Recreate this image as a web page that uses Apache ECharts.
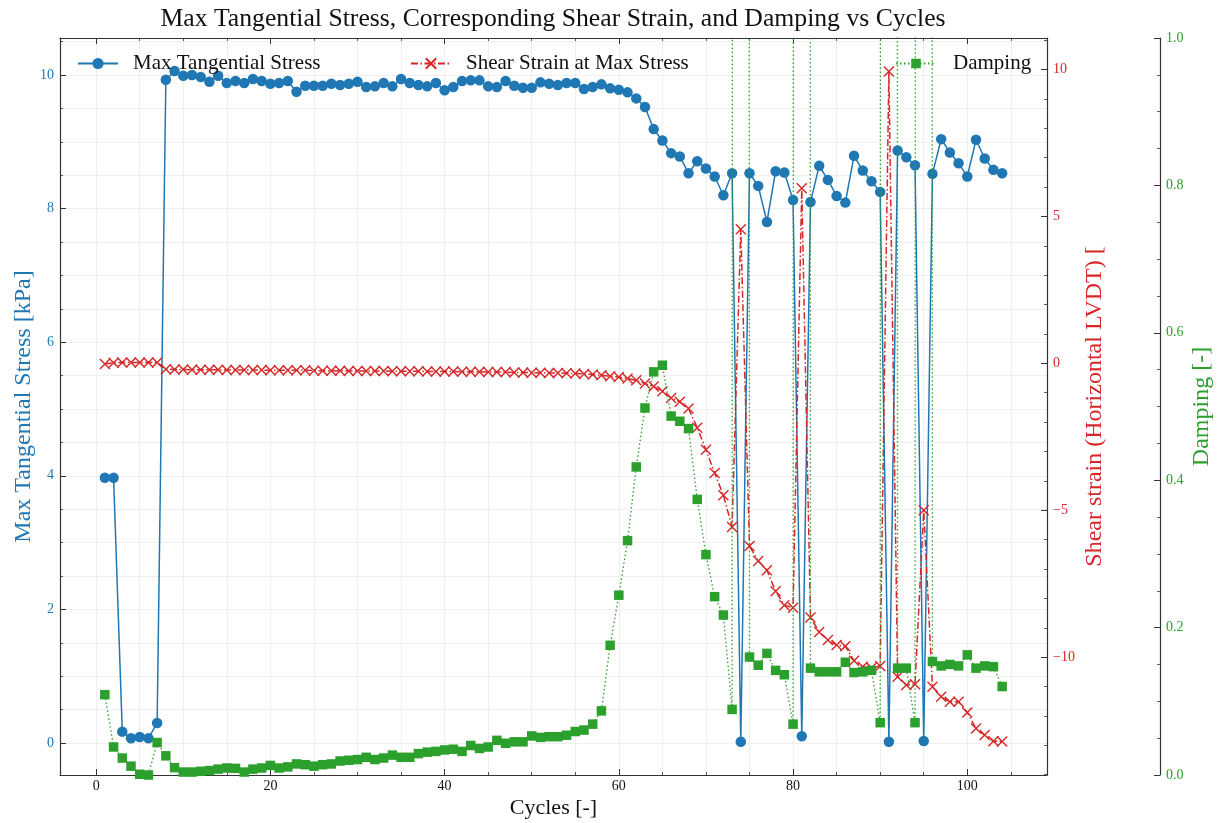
<!DOCTYPE html>
<html><head><meta charset="utf-8">
<script src="https://cdn.jsdelivr.net/npm/echarts@6/dist/echarts.min.js"></script>
<style>html,body{margin:0;padding:0;background:#fff;overflow:hidden}#c{width:1221px;height:823px}</style>
</head><body><div id="c"></div>
<script>
const cycles = [1,2,3,4,5,6,7,8,9,10,11,12,13,14,15,16,17,18,19,20,21,22,23,24,25,26,27,28,29,30,31,32,33,34,35,36,37,38,39,40,41,42,43,44,45,46,47,48,49,50,51,52,53,54,55,56,57,58,59,60,61,62,63,64,65,66,67,68,69,70,71,72,73,74,75,76,77,78,79,80,81,82,83,84,85,86,87,88,89,90,91,92,93,94,95,96,97,98,99,100,101,102,103,104];
const stress = [3.97,3.97,0.17,0.07,0.09,0.07,0.30,
  9.93,10.06,9.99,10.0,9.97,9.90,9.99,9.88,9.91,9.88,
  9.94,9.91,9.87,9.88,9.91,9.75,9.84,9.84,9.84,9.87,
  9.85,9.87,9.90,9.82,9.83,9.88,9.83,9.94,9.88,9.85,
  9.83,9.88,9.77,9.82,9.91,9.92,9.92,9.83,9.82,9.91,
  9.84,9.81,9.81,9.89,9.87,9.85,9.88,9.88,9.79,9.82,
  9.86,9.80,9.78,9.74,9.65,9.52,9.19,9.02,8.83,8.78,
  8.53,8.71,8.60,8.48,8.20,8.53,0.02,8.53,8.34,7.80,
  8.56,8.54,8.13,0.10,8.10,8.64,8.43,8.19,8.09,8.79,
  8.57,8.41,8.25,0.02,8.87,8.77,8.65,0.03,8.52,9.04,
  8.84,8.68,8.48,9.03,8.75,8.58,8.53];
const shear = [-0.02,0.02,0.03,0.03,0.03,0.03,0.03,
  -0.20,-0.21,-0.21,-0.22,-0.22,-0.22,-0.22,-0.23,-0.23,-0.23,
  -0.23,-0.23,-0.24,-0.24,-0.24,-0.24,-0.24,-0.25,-0.25,-0.25,
  -0.25,-0.26,-0.26,-0.26,-0.26,-0.26,-0.27,-0.27,-0.27,-0.27,
  -0.28,-0.28,-0.28,-0.28,-0.29,-0.29,-0.29,-0.30,-0.30,-0.30,
  -0.31,-0.31,-0.32,-0.32,-0.33,-0.33,-0.34,-0.35,-0.36,-0.38,
  -0.41,-0.44,-0.47,-0.52,-0.58,-0.69,-0.79,-0.95,-1.18,-1.31,
  -1.54,-2.19,-2.94,-3.73,-4.49,-5.57,4.56,-6.22,-6.73,-7.04,
  -7.76,-8.23,-8.32,5.96,-8.65,-9.14,-9.42,-9.59,-9.63,-10.12,
  -10.33,-10.36,-10.30,9.93,-10.67,-10.95,-10.92,-5.00,-11.01,-11.35,
  -11.52,-11.52,-11.88,-12.43,-12.65,-12.86,-12.87];
const damping = [0.109,0.038,0.023,0.012,0.001,0.000,0.044,0.026,0.010,0.004,
  0.004,0.005,0.006,0.008,0.0095,0.009,0.004,0.008,0.0095,0.013,
  0.0095,0.011,0.015,0.014,0.012,0.014,0.015,0.019,0.020,0.021,
  0.024,0.021,0.023,0.027,0.024,0.024,0.029,0.031,0.032,0.034,
  0.035,0.032,0.040,0.036,0.038,0.047,0.043,0.045,0.045,0.053,
  0.051,0.052,0.052,0.054,0.059,0.061,0.069,0.087,0.176,0.244,
  0.318,0.418,0.498,0.547,0.556,0.487,0.480,0.470,0.374,0.299,
  0.242,0.217,0.089,25,0.160,0.149,0.165,0.142,0.136,0.069,
  30,0.145,0.140,0.140,0.140,0.153,0.139,0.140,0.142,0.071,
  40,0.145,0.145,0.071,30,0.154,0.148,0.150,0.148,0.163,
  0.145,0.148,0.147,0.120];

const titleText = 'Max Tangential Stress, Corresponding Shear Strain, and Damping vs Cycles';
const seriesNames = ['Max Tangential Stress', 'Shear Strain at Max Stress', 'Damping'];
const axisNames = { x: 'Cycles [-]', stress: 'Max Tangential Stress [kPa]', shear: 'Shear strain (Horizontal LVDT) [', damping: 'Damping [-]' };

const FONT = "'Liberation Serif', 'DejaVu Serif', serif";
const BLUE = '#1f77b4', RED = '#d62728', GREEN = '#2ca02c';
const SPINE = '#333333', GRIDC = '#ebebeb';
const minus = s => String(s).replace('-', '\u2212');

function pairs(ys) { return cycles.map((c, i) => [c, ys[i]]); }

const tickCommon = { show: true, inside: true, length: 6, lineStyle: { color: SPINE, width: 1 } };
const minorCommon = (n) => ({ show: true, splitNumber: n, length: 3, lineStyle: { color: SPINE, width: 0.8 } });
const lineCommon = { show: true, onZero: false, lineStyle: { color: SPINE, width: 1.2 } };

const chart = echarts.init(document.getElementById('c'), null, { renderer: 'canvas', width: 1221, height: 823 });
chart.setOption({
  animation: false,
  backgroundColor: '#ffffff',
  title: {
    text: titleText, left: 553, top: 6, textAlign: 'center', padding: 0,
    textStyle: { fontFamily: FONT, fontSize: 25.7, fontWeight: 'normal', color: '#111' }
  },
  legend: [
    { data: [seriesNames[0]], left: 77, top: 53, padding: 0, itemWidth: 40, itemHeight: 14,
      textStyle: { fontFamily: FONT, fontSize: 21, color: '#111', padding: [0, 0, 0, 10] } },
    { data: [seriesNames[1]], left: 410, top: 53, padding: 0, itemWidth: 40, itemHeight: 13,
      textStyle: { fontFamily: FONT, fontSize: 21, color: '#111', padding: [0, 0, 0, 10] } },
    { data: [seriesNames[2]], left: 895, top: 53, padding: 0, itemWidth: 40, itemHeight: 12,
      textStyle: { fontFamily: FONT, fontSize: 21, color: '#111', padding: [0, 0, 0, 12] } }
  ],
  grid: { left: 60, top: 38, right: 174, bottom: 48, containLabel: false, outerBoundsMode: 'none' },
  xAxis: [
    { type: 'value', position: 'bottom', min: -4.15, max: 109.15, splitNumber: 5,
      axisLine: lineCommon, axisTick: tickCommon, minorTick: minorCommon(4),
      axisLabel: { color: '#111', fontFamily: FONT, fontSize: 14, margin: 4,
        formatter: v => (Math.abs(v % 20) < 1e-9 ? String(v) : '') },
      splitLine: { show: true, lineStyle: { color: GRIDC, width: 0.8 } },
      minorSplitLine: { show: true, lineStyle: { color: GRIDC, width: 0.8 } },
      name: axisNames.x, nameLocation: 'middle', nameGap: 22, nameMoveOverlap: false,
      nameTextStyle: { fontFamily: FONT, fontSize: 22, color: '#111', verticalAlign: 'top' } },
    { type: 'value', position: 'top', min: -4.15, max: 109.15, splitNumber: 5,
      axisLine: lineCommon, axisTick: tickCommon, minorTick: minorCommon(4),
      axisLabel: { show: false }, splitLine: { show: false } }
  ],
  yAxis: [
    { type: 'value', position: 'left', min: -0.479, max: 10.554, splitNumber: 5,
      axisLine: lineCommon, axisTick: tickCommon, minorTick: minorCommon(4),
      axisLabel: { color: BLUE, fontFamily: FONT, fontSize: 14, margin: 6,
        formatter: v => (Math.abs(v % 2) < 1e-9 ? String(v) : '') },
      splitLine: { show: true, lineStyle: { color: GRIDC, width: 0.8 } },
      minorSplitLine: { show: true, lineStyle: { color: GRIDC, width: 0.8 } },
      name: axisNames.stress, nameLocation: 'middle', nameGap: 24, nameRotate: 90, nameMoveOverlap: false,
      nameTextStyle: { fontFamily: FONT, fontSize: 24, color: BLUE } },
    { type: 'value', position: 'right', min: -14.01, max: 11.07, splitNumber: 5,
      axisLine: lineCommon, axisTick: tickCommon, minorTick: minorCommon(5),
      axisLabel: { color: RED, fontFamily: FONT, fontSize: 14, margin: 6,
        formatter: v => (Math.abs(v % 5) < 1e-9 ? minus(v) : '') },
      splitLine: { show: false },
      name: axisNames.shear, nameLocation: 'middle', nameGap: 36, nameRotate: 90, nameMoveOverlap: false,
      nameTextStyle: { fontFamily: FONT, fontSize: 24, color: RED } },
    { type: 'value', position: 'right', offset: 113, min: 0, max: 1, interval: 0.2,
      axisLine: lineCommon, axisTick: tickCommon, minorTick: minorCommon(4),
      axisLabel: { color: GREEN, fontFamily: FONT, fontSize: 14, margin: 6,
        formatter: v => v.toFixed(1) },
      splitLine: { show: false },
      name: axisNames.damping, nameLocation: 'middle', nameGap: 30, nameRotate: 90, nameMoveOverlap: false,
      nameTextStyle: { fontFamily: FONT, fontSize: 24, color: GREEN } }
  ],
  series: [
    { name: seriesNames[0], type: 'line', xAxisIndex: 0, yAxisIndex: 0, data: pairs(stress),
      symbol: 'circle', symbolSize: 10.5, z: 2, clip: true,
      lineStyle: { color: BLUE, width: 1.5 }, itemStyle: { color: BLUE } },
    { name: seriesNames[1], type: 'line', xAxisIndex: 0, yAxisIndex: 1, data: pairs(shear),
      symbol: 'path://M0,0L10,10M10,0L0,10', symbolSize: 10, z: 3, clip: true,
      lineStyle: { color: RED, width: 1.5, type: [7, 2.5, 1.5, 2.5] },
      itemStyle: { color: RED, borderColor: RED, borderWidth: 1.4 } },
    { name: seriesNames[2], type: 'line', xAxisIndex: 0, yAxisIndex: 2, data: pairs(damping),
      symbol: 'rect', symbolSize: 9.5, z: 4, clip: true,
      lineStyle: { color: GREEN, width: 1.3, type: [1.5, 2.5] }, itemStyle: { color: GREEN } }
  ]
});
</script>
</body></html>
